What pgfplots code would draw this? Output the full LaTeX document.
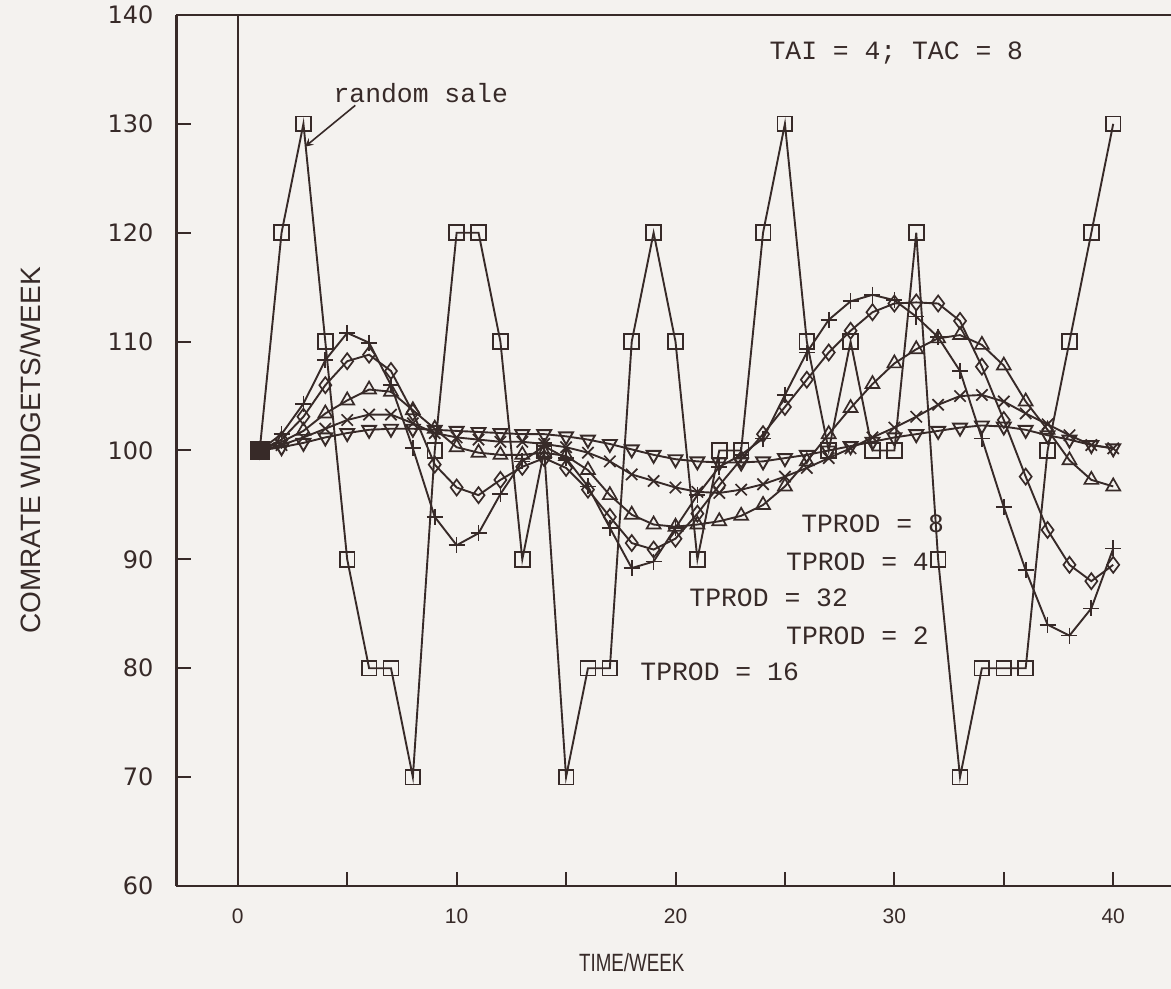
\documentclass[border=0pt]{standalone}
\usepackage{pgfplots}
\pgfplotsset{compat=1.18}
\usepackage{fontspec}
\setmainfont{Liberation Sans}
\newfontfamily\monofont{Liberation Mono}
\newfontfamily\widefont{DejaVu Sans}
\definecolor{ink}{RGB}{55,42,40}
\definecolor{paper}{RGB}{244,242,239}

\pgfplotstableread{
w v
1 100
2 120
3 130
4 110
5 90
6 80
7 80
8 70
9 100
10 120
11 120
12 110
13 90
14 100
15 70
16 80
17 80
18 110
19 120
20 110
21 90
22 100
23 100
24 120
25 130
26 110
27 100
28 110
29 100
30 100
31 120
32 90
33 70
34 80
35 80
36 80
37 100
38 110
39 120
40 130
}\sale

\pgfplotstableread{
w v
1 100
2 101.5
3 104.3
4 108.3
5 110.8
6 109.9
7 106
8 100.2
9 93.9
10 91.3
11 92.4
12 96
13 99
14 100.4
15 99.3
16 96.7
17 92.9
18 89.2
19 89.8
20 92.9
21 95.9
22 98.5
23 99.6
24 101.1
25 105.1
26 109
27 112
28 113.7
29 114.3
30 113.8
31 112.3
32 110.4
33 107.3
34 101.1
35 94.8
36 89
37 84
38 83
39 85.5
40 91
}\tptwo

\pgfplotstableread{
w v
1 100
2 101
3 103.1
4 106
5 108.2
6 108.8
7 107.3
8 103.5
9 98.7
10 96.6
11 95.9
12 97.3
13 98.5
14 99.3
15 98.4
16 96.4
17 93.9
18 91.5
19 90.9
20 91.9
21 94.2
22 96.8
23 99.2
24 101.5
25 104
26 106.5
27 109
28 111
29 112.7
30 113.5
31 113.6
32 113.5
33 111.9
34 107.7
35 102.8
36 97.6
37 92.7
38 89.5
39 88
40 89.5
}\tpfour

\pgfplotstableread{
w v
1 100
2 100.8
3 101.8
4 103.4
5 104.6
6 105.6
7 105.4
8 103.7
9 102
10 100.3
11 99.8
12 99.6
13 99.6
14 99.8
15 99.5
16 98.2
17 95.9
18 94.1
19 93.2
20 93
21 93.2
22 93.5
23 94
24 95
25 96.7
26 99
27 101.5
28 103.9
29 106.1
30 108
31 109.3
32 110.3
33 110.6
34 109.7
35 107.8
36 104.5
37 101.9
38 99.1
39 97.3
40 96.7
}\tpeight

\pgfplotstableread{
w v
1 100
2 100.5
3 101.2
4 102
5 102.8
6 103.3
7 103.3
8 102.5
9 101.6
10 101.2
11 101
12 100.8
13 100.8
14 100.6
15 100.3
16 99.8
17 99
18 97.8
19 97.2
20 96.6
21 96.2
22 96.1
23 96.4
24 96.9
25 97.6
26 98.4
27 99.3
28 100.2
29 101.2
30 102.1
31 103.1
32 104.2
33 105
34 105.1
35 104.5
36 103.4
37 102.4
38 101.4
39 100.5
40 100.2
}\tpsixteen

\pgfplotstableread{
w v
1 100
2 100.3
3 100.7
4 101.2
5 101.6
6 101.9
7 102
8 102
9 101.9
10 101.8
11 101.7
12 101.6
13 101.5
14 101.5
15 101.3
16 101
17 100.6
18 100.1
19 99.6
20 99.2
21 99
22 98.9
23 98.9
24 99
25 99.3
26 99.6
27 100
28 100.4
29 100.8
30 101.2
31 101.5
32 101.8
33 102.1
34 102.3
35 102.2
36 101.9
37 101.4
38 101
39 100.5
40 100.2
}\tpthirtytwo

\begin{document}
\begin{tikzpicture}[x=1pt,y=1pt]
\fill[paper] (-88.25,-51.5) rectangle (497.25,443);
\useasboundingbox (-88.25,-51.5) rectangle (497.25,443);
\begin{axis}[
  at={(0,0)}, anchor=south west,
  scale only axis, width=497.25pt, height=435.5pt,
  xmin=-2.8, xmax=42.64, ymin=60, ymax=140,
  axis x line*=box, axis y line*=left,
  axis line style={ink, line width=1.2pt},
  xtick={0,10,20,30,40}, minor xtick={5,15,25,35},
  ytick={60,70,...,140},
  tick align=inside, xtick pos=bottom, ytick pos=left,
  major tick length=7pt, minor tick length=7pt,
  tick style={ink, line width=1pt},
  /pgf/number format/assume math mode=true,
  yticklabel style={font=\widefont\fontsize{12}{14}\selectfont, text=ink, xshift=-8pt},
  xticklabel style={font=\fontsize{10.5}{12}\selectfont, text=ink, yshift=-8pt},
  clip=false,
  every axis plot/.append style={ink, line width=0.95pt, mark size=3.7pt,
     mark options={solid, line width=0.85pt, fill=paper}},
]
\addplot[mark=square] table[x=w,y=v] {\sale};
\addplot[mark=+, mark size=4pt] table[x=w,y=v] {\tptwo};
\addplot[mark=diamond, mark size=4pt] table[x=w,y=v] {\tpfour};
\addplot[mark=triangle, mark size=4pt] table[x=w,y=v] {\tpeight};
\addplot[mark=x, mark size=4pt] table[x=w,y=v] {\tpsixteen};
\addplot[mark=triangle, mark size=4pt, mark options={rotate=180}] table[x=w,y=v] {\tpthirtytwo};
\addplot[only marks, mark=square*, mark size=4.5pt, mark options={fill=ink, draw=ink}] coordinates {(1,100)};

\draw[ink, line width=1.2pt] (axis cs:0,60) -- (axis cs:0,140);
\draw[ink, line width=0.8pt, -stealth] (axis cs:5.37,131.7) -- (axis cs:3.07,127.9);

\begin{scope}[every node/.style={text=ink, font=\monofont\fontsize{13.2}{15}\selectfont, anchor=west, inner sep=0pt}]
\node at (axis cs:4.36,132.8) {random sale};
\node at (axis cs:24.28,136.5) {TAI = 4; TAC = 8};
\node at (axis cs:25.73,93.3) {TPROD = 8};
\node at (axis cs:25.04,89.8) {TPROD = 4};
\node at (axis cs:20.62,86.5) {TPROD = 32};
\node at (axis cs:25.04,83.0) {TPROD = 2};
\node at (axis cs:18.38,79.7) {TPROD = 16};
\end{scope}

\node[text=ink, font=\fontsize{12.5}{14}\selectfont] at (axis cs:18.0,53.0) {\scalebox{0.75}[1]{TIME/WEEK}};
\node[text=ink, font=\fontsize{14}{16}\selectfont, rotate=90] at (axis cs:-9.49,100) {COMRATE WIDGETS/WEEK};
\end{axis}
\end{tikzpicture}
\end{document}
